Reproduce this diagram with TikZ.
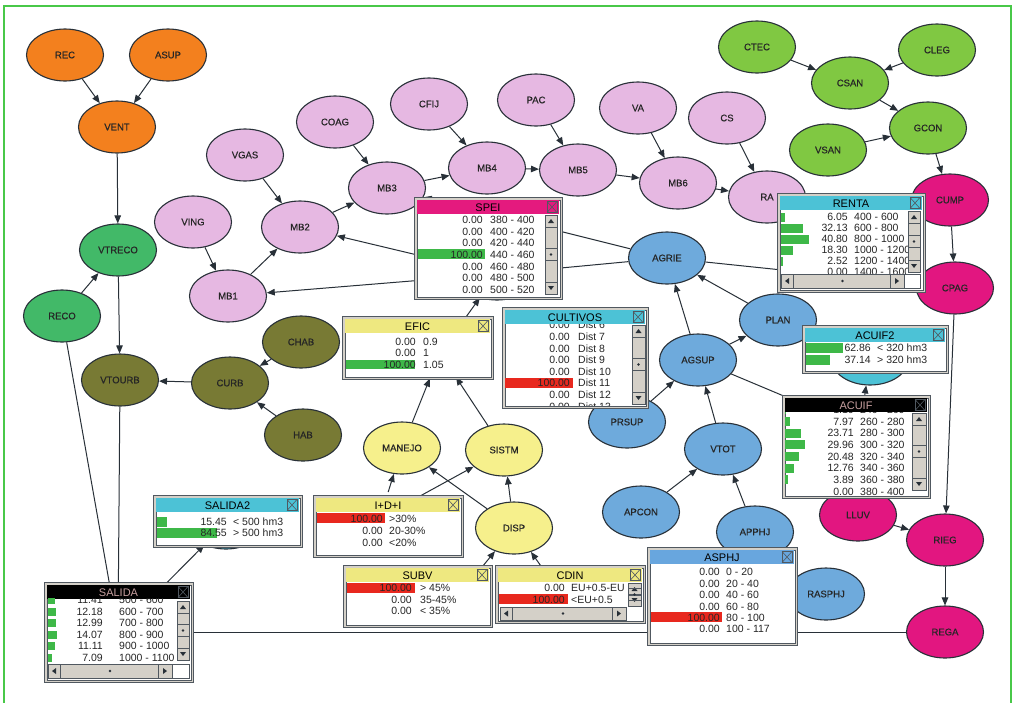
\documentclass[tikz,border=0pt]{standalone}
\usepackage{fontspec}
\setmainfont{Liberation Sans}
\newfontfamily\nodelabelfont{Liberation Sans}[FakeBold=0.6]
\usetikzlibrary{shapes.geometric,arrows.meta}

\definecolor{orng}{RGB}{243,128,30}
\definecolor{grn}{RGB}{66,185,104}
\definecolor{olv}{RGB}{120,122,52}
\definecolor{pnk}{RGB}{230,184,226}
\definecolor{lime}{RGB}{128,200,66}
\definecolor{mag}{RGB}{226,22,128}
\definecolor{blu}{RGB}{110,170,220}
\definecolor{yel}{RGB}{246,240,140}
\definecolor{tcyan}{RGB}{76,194,214}
\definecolor{tyel}{RGB}{238,232,128}
\definecolor{tpink}{RGB}{228,26,126}
\definecolor{tblue}{RGB}{104,166,222}
\definecolor{bgreen}{RGB}{62,184,72}
\definecolor{bred}{RGB}{232,40,30}
\definecolor{winbg}{RGB}{212,208,200}
\definecolor{frame}{RGB}{80,88,96}
\definecolor{edgec}{RGB}{40,48,56}
\definecolor{bord}{RGB}{72,200,72}
\definecolor{dimtitle}{RGB}{200,160,160}

\pgfdeclarelayer{bg}
\pgfsetlayers{bg,main}

\tikzset{
  bn/.style={ellipse, draw=edgec, line width=1.1pt, minimum width=77pt, minimum height=52pt,
    inner sep=0pt, text=black!85, font=\nodelabelfont\fontsize{9.5}{10}\selectfont},
  link/.style={draw=edgec, line width=1pt, -{Triangle[length=8pt,width=6.5pt]}},
  wire/.style={draw=edgec, line width=1pt},
  mtxt/.style={font=\fontsize{10.5}{11}\selectfont, inner sep=0pt, text=black!85},
  ttxt/.style={font=\fontsize{11}{12}\selectfont, inner sep=0pt},
  winframe/.style={draw=frame, line width=0.8pt},
}

% monitor window: name, x1, y1, x2, y2, title fill, title, title text colour
\newcommand\monbox[8]{%
  \fill[winbg] (#2,#3) rectangle (#4,#5);
  \draw[winframe] (#2,#3) rectangle (#4,#5);
  \node[winframe, fill=white, anchor=north west, inner sep=0pt,
        minimum width={#4-#2-5}, minimum height={#5-#3-5}] (#1) at (#2+2.5,#3+2.5) {};
  \fill[#6] (#2+3,#3+3) rectangle (#4-3,#3+17);
  \node[ttxt, text=#8] (#1-title) at ({(#2+#4)/2},#3+10.5) {#7};
  \draw[frame, fill=#6, line width=0.7pt] (#4-15,#3+4.5) rectangle (#4-5,#3+15.5);
  \draw[frame, line width=0.6pt] (#4-15,#3+4.5) -- (#4-5,#3+15.5) (#4-15,#3+15.5) -- (#4-5,#3+4.5);
}
% one line of a monitor: name, value right edge, state left edge, row centre, value, state
\newcommand\mrow[6]{%
  \node[mtxt, anchor=base east] (#1v) at (#2,#4+3.8) {#5};
  \node[mtxt, anchor=base west] (#1l) at (#3,#4+3.8) {#6};
}
% vertical scroll bar
\newcommand\vsb[4]{%
  \fill[winbg] (#1,#2) rectangle (#3,#4);
  \draw[frame, line width=0.6pt] (#1,#2) rectangle (#3,#4);
  \draw[frame, line width=0.6pt] (#1,#2+12) -- (#3,#2+12) (#1,#4-12) -- (#3,#4-12);
  \fill[edgec] ({(#1+#3)/2-3},#2+8) -- ({(#1+#3)/2+3},#2+8) -- ({(#1+#3)/2},#2+4) -- cycle;
  \fill[edgec] ({(#1+#3)/2-3},#4-8) -- ({(#1+#3)/2+3},#4-8) -- ({(#1+#3)/2},#4-4) -- cycle;
  \draw[frame, line width=0.6pt] (#1,{(#2+#4)/2-6}) rectangle (#3,{(#2+#4)/2+6});
  \fill[edgec] ({(#1+#3)/2},{(#2+#4)/2}) circle (1.3pt);
}
% horizontal scroll bar
\newcommand\hsb[4]{%
  \fill[winbg] (#1,#2) rectangle (#3,#4);
  \draw[frame, line width=0.6pt] (#1,#2) rectangle (#3,#4);
  \draw[frame, line width=0.6pt] (#1+12,#2) -- (#1+12,#4) (#3-14,#2) -- (#3-14,#4);
  \fill[edgec] (#1+8,{(#2+#4)/2-3}) -- (#1+8,{(#2+#4)/2+3}) -- (#1+4,{(#2+#4)/2}) -- cycle;
  \fill[edgec] (#3-9,{(#2+#4)/2-3}) -- (#3-9,{(#2+#4)/2+3}) -- (#3-5,{(#2+#4)/2}) -- cycle;
  \fill[edgec] ({(#1+#3)/2},{(#2+#4)/2}) circle (1.3pt);
}

\begin{document}
\begin{tikzpicture}[x=1pt, y=-1pt]
\useasboundingbox (0,0) rectangle (1014,702);
\begin{pgfonlayer}{bg}
\fill[white] (0,0) rectangle (1014,702);
\draw[bord, line width=1.2pt] (4,708) -- (4,6) -- (1011,6) -- (1011,708);
\end{pgfonlayer}

% ---- sales and urban water use ----
\node[bn, fill=orng] (rec) at (65,55) {REC};
\node[bn, fill=orng] (asup) at (168,55) {ASUP};
\node[bn, fill=orng] (vent) at (117,127) {VENT};
\node[bn, fill=grn] (vtreco) at (118,250) {VTRECO};
\node[bn, fill=grn] (reco) at (62,316) {RECO};
\node[bn, fill=olv] (vtourb) at (120,380) {VTOURB};
\node[bn, fill=olv] (curb) at (230,383) {CURB};
\node[bn, fill=olv] (chab) at (301,342) {CHAB};
\node[bn, fill=olv] (hab) at (303,435) {HAB};

% ---- gross margin chain ----
\node[bn, fill=pnk] (vgas) at (245,155) {VGAS};
\node[bn, fill=pnk] (ving) at (193,222) {VING};
\node[bn, fill=pnk] (mb1) at (228,296) {MB1};
\node[bn, fill=pnk] (mb2) at (300,227) {MB2};
\node[bn, fill=pnk] (coag) at (335,122) {COAG};
\node[bn, fill=pnk] (mb3) at (387,188) {MB3};
\node[bn, fill=pnk] (cfij) at (429,104) {CFIJ};
\node[bn, fill=pnk] (mb4) at (487,168) {MB4};
\node[bn, fill=pnk] (pac) at (536,100) {PAC};
\node[bn, fill=pnk] (mb5) at (578,170) {MB5};
\node[bn, fill=pnk] (va) at (638,108) {VA};
\node[bn, fill=pnk] (mb6) at (678,183) {MB6};
\node[bn, fill=pnk] (cs) at (727,118) {CS};
\node[bn, fill=pnk] (ra) at (767,197) {RA};

% ---- sanctions and compliance ----
\node[bn, fill=lime] (ctec) at (757,47) {CTEC};
\node[bn, fill=lime] (cleg) at (937,50) {CLEG};
\node[bn, fill=lime] (csan) at (850,83) {CSAN};
\node[bn, fill=lime] (gcon) at (928,128) {GCON};
\node[bn, fill=lime] (vsan) at (828,150) {VSAN};
\node[bn, fill=mag] (cump) at (950,200) {CUMP};
\node[bn, fill=mag] (cpag) at (955,288) {CPAG};
\node[bn, fill=mag] (lluv) at (858,515) {LLUV};
\node[bn, fill=mag] (rieg) at (945,540) {RIEG};
\node[bn, fill=mag] (rega) at (945,632) {REGA};

% ---- irrigated area ----
\node[bn, fill=blu] (agrie) at (667,258) {AGRIE};
\node[bn, fill=blu] (plan) at (778,320) {PLAN};
\node[bn, fill=blu] (agsup) at (698,360) {AGSUP};
\node[bn, fill=blu] (prsup) at (627,422) {PRSUP};
\node[bn, fill=blu] (vtot) at (723,449) {VTOT};
\node[bn, fill=blu] (apcon) at (641,512) {APCON};
\node[bn, fill=blu] (apphj) at (755,532) {APPHJ};
\node[bn, fill=blu] (rasphj) at (826,594) {RASPHJ};

\node[bn, fill=yel] (manejo) at (402,448) {MANEJO};
\node[bn, fill=yel] (sistm) at (504,450) {SISTM};
\node[bn, fill=yel] (disp) at (514,528) {DISP};

% nodes covered by their monitor windows
\node[bn, fill=tcyan] (salida2) at (226,523) {};
\node[bn, fill=tcyan] (acuif2) at (870,359) {};
\node[bn, fill=tpink] (spei) at (497,274) {};
\node[bn, fill=yel] (efic) at (440,353) {};
\node[bn, draw=none] (salida) at (118,632) {};
\node[bn, draw=none] (idi) at (380,518) {};
\coordinate (acuif) at (860,428);
\coordinate (subv) at (455,600);
\coordinate (cdin) at (565,600);

\begin{pgfonlayer}{bg}
\draw[link] (rec) -- (vent);
\draw[link] (asup) -- (vent);
\draw[link] (vent) -- (vtreco);
\draw[link] (reco) -- (vtreco);
\draw[link] (vtreco) -- (vtourb);
\draw[link] (curb) -- (vtourb);
\draw[link] (chab) -- (curb);
\draw[link] (hab) -- (curb);
\draw[link] (reco) -- (salida);
\draw[link] (vtourb) -- (salida);
\draw[link] (salida) -- (salida2);
\draw[link] (rega) -- (salida);

\draw[link] (ving) -- (mb1);
\draw[link] (mb1) -- (mb2);
\draw[link] (vgas) -- (mb2);
\draw[link] (mb2) -- (mb3);
\draw[link] (coag) -- (mb3);
\draw[link] (mb3) -- (mb4);
\draw[link] (cfij) -- (mb4);
\draw[link] (mb4) -- (mb5);
\draw[link] (pac) -- (mb5);
\draw[link] (mb5) -- (mb6);
\draw[link] (va) -- (mb6);
\draw[link] (mb6) -- (ra);
\draw[link] (cs) -- (ra);
\draw[link] (spei) -- (mb2);
\draw[link] (spei) -- (mb1);
\draw[link] (agrie) -- (spei);
\draw[link] (agrie) -- (mb3);
\draw[link] (agrie) -- (cpag);
\draw[link] (efic) -- (spei);

\draw[link] (ctec) -- (csan);
\draw[link] (cleg) -- (csan);
\draw[link] (csan) -- (gcon);
\draw[link] (vsan) -- (gcon);
\draw[link] (gcon) -- (cump);
\draw[link] (cump) -- (cpag);
\draw[link] (cpag) -- (rieg);
\draw[link] (lluv) -- (rieg);
\draw[link] (rieg) -- (rega);

\draw[link] (plan) -- (agrie);
\draw[link] (agsup) -- (agrie);
\draw[link] (agsup) -- (plan);
\draw[link] (prsup) -- (agsup);
\draw[link] (vtot) -- (agsup);
\draw[link] (apcon) -- (vtot);
\draw[link] (apphj) -- (vtot);
\draw[wire] (agsup) -- (acuif);
\draw[link] (acuif) -- (acuif2);

\draw[link] (manejo) -- (efic);
\draw[link] (sistm) -- (efic);
\draw[link] (disp) -- (manejo);
\draw[link] (disp) -- (sistm);
\draw[link] (idi) -- (sistm);
\draw[link] (idi) -- (manejo);
\draw[link] (subv) -- (disp);
\draw[link] (cdin) -- (disp);
\end{pgfonlayer}

% ================= monitor windows =================
% SPEI
\monbox{speiw}{414}{197}{562}{299}{tpink}{SPEI}{black}
\fill[bgreen] (418,249) rectangle (485,259);
\mrow{sp1}{483}{490}{219.5}{0.00}{380 - 400}
\mrow{sp2}{483}{490}{231.2}{0.00}{400 - 420}
\mrow{sp3}{483}{490}{242.9}{0.00}{420 - 440}
\mrow{sp4}{483}{490}{254.6}{100.00}{440 - 460}
\mrow{sp5}{483}{490}{266.3}{0.00}{460 - 480}
\mrow{sp6}{483}{490}{278.0}{0.00}{480 - 500}
\mrow{sp7}{483}{490}{289.7}{0.00}{500 - 520}
\vsb{545}{215}{557}{294}

% RENTA
\monbox{rentaw}{777}{193}{925}{292}{tcyan}{RENTA}{black}
\begin{scope}
\clip (780,211) rectangle (907,273);
\fill[bgreen] (781,212.5) rectangle (785,221.5);
\fill[bgreen] (781,223.5) rectangle (803,232.5);
\fill[bgreen] (781,234.5) rectangle (809,243.5);
\fill[bgreen] (781,245.5) rectangle (793,254.5);
\fill[bgreen] (781,256.5) rectangle (783,265.5);
\mrow{re1}{848}{854}{217}{6.05}{400 - 600}
\mrow{re2}{848}{854}{228}{32.13}{600 - 800}
\mrow{re3}{848}{854}{239}{40.80}{800 - 1000}
\mrow{re4}{848}{854}{250}{18.30}{1000 - 1200}
\mrow{re5}{848}{854}{261}{2.52}{1200 - 1400}
\mrow{re6}{848}{854}{272}{0.00}{1400 - 1600}
\end{scope}
\vsb{908}{211}{920}{272}
\hsb{781}{274}{904}{288}
\draw[frame, line width=0.6pt] (904,274) rectangle (920,288);

% EFIC
\monbox{eficw}{342}{316}{493}{379}{tyel}{EFIC}{black}
\fill[bgreen] (346,360) rectangle (415,369);
\mrow{ef1}{416}{423}{342}{0.00}{0.9}
\mrow{ef2}{416}{423}{353}{0.00}{1}
\mrow{ef3}{416}{423}{364.5}{100.00}{1.05}

% CULTIVOS
\monbox{cultw}{502}{307}{648}{408}{tcyan}{CULTIVOS}{black}
\begin{scope}
\clip (505,324) rectangle (631,405);
\fill[bred] (505,378) rectangle (573,388);
\mrow{cu6}{570}{578}{325}{0.00}{Dist 6}
\mrow{cu7}{570}{578}{336.6}{0.00}{Dist 7}
\mrow{cu8}{570}{578}{348.2}{0.00}{Dist 8}
\mrow{cu9}{570}{578}{359.8}{0.00}{Dist 9}
\mrow{cu10}{570}{578}{371.4}{0.00}{Dist 10}
\mrow{cu11}{570}{578}{383.0}{100.00}{Dist 11}
\mrow{cu12}{570}{578}{394.6}{0.00}{Dist 12}
\mrow{cu13}{570}{578}{406.2}{0.00}{Dist 13}
\end{scope}
\vsb{632}{325}{645}{404}

% ACUIF2
\monbox{acuif2w}{802}{325}{948}{373}{tcyan}{ACUIF2}{black}
\fill[bgreen] (806,343) rectangle (843,353);
\fill[bgreen] (806,355) rectangle (830,365);
\mrow{a21}{871}{877}{348}{62.86}{< 320 hm3}
\mrow{a22}{871}{877}{360}{37.14}{> 320 hm3}

% ACUIF
\monbox{acuifw}{782}{395}{930}{498}{black}{ACUIF}{dimtitle}
\begin{scope}
\clip (785,412) rectangle (910,495);
\fill[bgreen] (785,405) rectangle (786,414);
\fill[bgreen] (785,417) rectangle (790,426);
\fill[bgreen] (785,428.5) rectangle (801,437.5);
\fill[bgreen] (785,440) rectangle (805,449);
\fill[bgreen] (785,452) rectangle (799,461);
\fill[bgreen] (785,463.5) rectangle (794,472.5);
\fill[bgreen] (785,475) rectangle (788,484);
\mrow{ac0}{854}{860}{409.6}{1.10}{240 - 260}
\mrow{ac1}{854}{860}{421.3}{7.97}{260 - 280}
\mrow{ac2}{854}{860}{433.0}{23.71}{280 - 300}
\mrow{ac3}{854}{860}{444.7}{29.96}{300 - 320}
\mrow{ac4}{854}{860}{456.4}{20.48}{320 - 340}
\mrow{ac5}{854}{860}{468.1}{12.76}{340 - 360}
\mrow{ac6}{854}{860}{479.8}{3.89}{360 - 380}
\mrow{ac7}{854}{860}{491.5}{0.00}{380 - 400}
\end{scope}
\vsb{912}{413}{926}{490}

% SALIDA2
\monbox{salida2w}{153}{495}{302}{547}{tcyan}{SALIDA2}{black}
\fill[bgreen] (157,517) rectangle (167,527);
\fill[bgreen] (157,528) rectangle (217,538);
\mrow{s21}{227}{233}{522}{15.45}{< 500 hm3}
\mrow{s22}{227}{233}{533}{84.55}{> 500 hm3}

% I+D+I
\monbox{idiw}{313}{495}{463}{557}{tyel}{I+D+I}{black}
\fill[bred] (317,513) rectangle (385,523);
\mrow{id1}{383}{389}{518.5}{100.00}{>30\%}
\mrow{id2}{383}{389}{530.5}{0.00}{20-30\%}
\mrow{id3}{383}{389}{542.5}{0.00}{<20\%}

% SALIDA
\monbox{salidaw}{44}{582}{193}{682}{black}{SALIDA}{dimtitle}
\begin{scope}
\clip (47,598) rectangle (175,662);
\fill[bgreen] (48,596) rectangle (55,604);
\fill[bgreen] (48,607.5) rectangle (56,615.5);
\fill[bgreen] (48,619) rectangle (56,627);
\fill[bgreen] (48,630.5) rectangle (57,638.5);
\fill[bgreen] (48,642) rectangle (55,650);
\fill[bgreen] (48,653.5) rectangle (52,661.5);
\mrow{sa1}{103}{119}{600}{11.41}{500 - 600}
\mrow{sa2}{103}{119}{611.5}{12.18}{600 - 700}
\mrow{sa3}{103}{119}{623}{12.99}{700 - 800}
\mrow{sa4}{103}{119}{634.5}{14.07}{800 - 900}
\mrow{sa5}{103}{119}{646}{11.11}{900 - 1000}
\mrow{sa6}{103}{119}{657.5}{7.09}{1000 - 1100}
\end{scope}
\vsb{177}{601}{189}{660}
\hsb{48}{664}{172}{678}
\draw[frame, line width=0.6pt] (172,664) rectangle (189,678);

% SUBV
\monbox{subvw}{343}{565}{492}{627}{tyel}{SUBV}{black}
\fill[bred] (347,583) rectangle (415,593);
\mrow{su1}{412}{420}{588}{100.00}{> 45\%}
\mrow{su2}{412}{420}{599.5}{0.00}{35-45\%}
\mrow{su3}{412}{420}{611}{0.00}{< 35\%}

% CDIN
\monbox{cdinw}{495}{565}{645}{623}{tyel}{CDIN}{black}
\begin{scope}
\clip (498,582) rectangle (627,606);
\fill[bred] (499,594) rectangle (568,604);
\mrow{cd1}{565}{571}{588}{0.00}{EU+0.5-EU}
\mrow{cd2}{565}{571}{599.5}{100.00}{<EU+0.5}
\end{scope}
\vsb{628}{583}{641}{606}
\hsb{500}{607}{626}{620}

% ASPHJ
\monbox{asphjw}{647}{547}{797}{645}{tblue}{ASPHJ}{black}
\fill[bred] (651,612) rectangle (722,622);
\mrow{as1}{720}{726}{572}{0.00}{0 - 20}
\mrow{as2}{720}{726}{583.4}{0.00}{20 - 40}
\mrow{as3}{720}{726}{594.8}{0.00}{40 - 60}
\mrow{as4}{720}{726}{606.2}{0.00}{60 - 80}
\mrow{as5}{720}{726}{617.6}{100.00}{80 - 100}
\mrow{as6}{720}{726}{629}{0.00}{100 - 117}
\end{tikzpicture}
\end{document}
